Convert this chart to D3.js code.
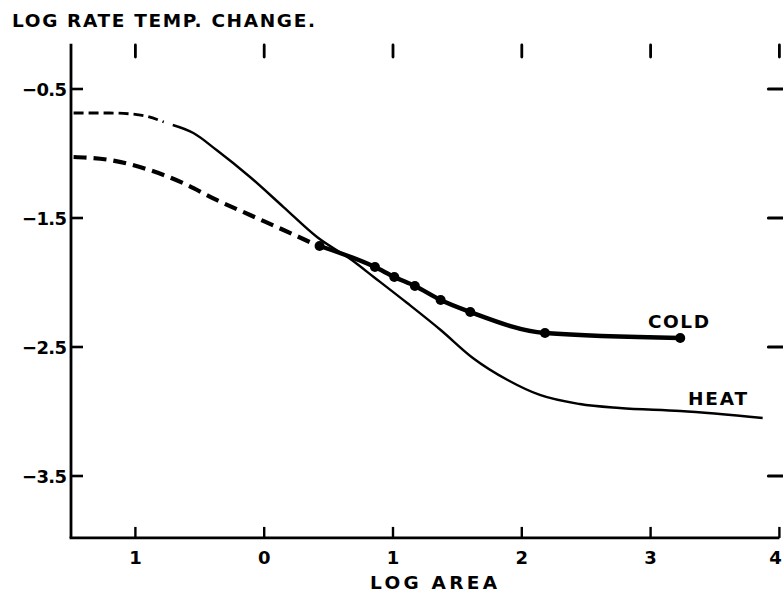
<!DOCTYPE html>
<html>
<head>
<meta charset="utf-8">
<script src="https://cdnjs.cloudflare.com/ajax/libs/d3/7.8.5/d3.min.js"></script>
<style>
    body { margin: 0; background: #fff; }
    svg { display: block; }
    text { font-family: "DejaVu Sans", sans-serif; font-weight: bold; fill: #000; }
</style>
</head>
<body>
<svg id="chart" width="783" height="595"></svg>
<script>
// values
var xTicks = [-1, 0, 1, 2, 3, 4];
var xTickLabels = ["1", "0", "1", "2", "3", "4"];
var yTicks = [-0.5, -1.5, -2.5, -3.5];
var yTickLabels = ["\u22120.5", "\u22121.5", "\u22122.5", "\u22123.5"];

// heat: extrapolated (dashed) part, then measured part
var heatDashX = [-1.48, -1.20, -0.96, -0.78];
var heatDashY = [-0.686, -0.686, -0.702, -0.756];
var heatX = [-0.71, -0.55, -0.37, -0.11, 0.15, 0.41, 0.68, 0.85, 1.11, 1.37, 1.62, 1.89, 2.14, 2.45, 2.76, 3.23, 3.87];
var heatY = [-0.779, -0.841, -0.973, -1.182, -1.415, -1.647, -1.826, -1.957, -2.159, -2.368, -2.585, -2.756, -2.872, -2.942, -2.973, -2.996, -3.050];

// cold: extrapolated (dashed) part, then observed points
var coldDashX = [-1.48, -1.20, -0.89, -0.63, -0.37, -0.11, 0.15, 0.42];
var coldDashY = [-1.027, -1.050, -1.128, -1.229, -1.360, -1.477, -1.593, -1.717];
var coldX = [0.43, 0.86, 1.01, 1.17, 1.37, 1.60, 2.18, 3.23];
var coldY = [-1.717, -1.880, -1.957, -2.027, -2.136, -2.229, -2.391, -2.430];

var xMin = -1.5, xMax = 4, yMin = -3.98, yMax = -0.15;

var svg = d3.select("#chart");

var x = d3.scaleLinear().domain([xMin, xMax]).range([71, 779.4]);
var y = d3.scaleLinear().domain([-3.5, -0.5]).range([476, 89]);

function pts(xs, ys) {
    return xs.map(function (v, i) { return [v, ys[i]]; });
}

var line = d3.line()
    .x(function (d) { return x(d[0]); })
    .y(function (d) { return y(d[1]); })
    .curve(d3.curveMonotoneX);

// axes frame
var g = svg.append("g").attr("stroke", "#000").attr("fill", "none");

g.append("line")
    .attr("x1", x(xMin)).attr("x2", x(xMin))
    .attr("y1", y(yMax)).attr("y2", y(yMin))
    .attr("stroke-width", 2.8);

g.append("line")
    .attr("x1", x(xMin) - 1.4).attr("x2", x(xMax))
    .attr("y1", y(yMin)).attr("y2", y(yMin))
    .attr("stroke-width", 2.8);

// bottom ticks (up), top ticks (floating)
xTicks.forEach(function (t) {
    g.append("line")
        .attr("x1", x(t)).attr("x2", x(t))
        .attr("y1", y(yMin)).attr("y2", y(yMin) - 11)
        .attr("stroke-width", 2.4);
    g.append("line")
        .attr("x1", x(t)).attr("x2", x(t))
        .attr("y1", 45).attr("y2", 57)
        .attr("stroke-width", 2.8)
        .attr("stroke-linecap", "round");
});

// left ticks and right ticks
yTicks.forEach(function (t) {
    g.append("line")
        .attr("x1", x(xMin)).attr("x2", x(xMin) + 12)
        .attr("y1", y(t)).attr("y2", y(t))
        .attr("stroke-width", 2.6);
    g.append("line")
        .attr("x1", x(xMax) - 11).attr("x2", x(xMax) + 3)
        .attr("y1", y(t)).attr("y2", y(t))
        .attr("stroke-width", 3)
        .attr("stroke-linecap", "round");
});

// tick labels
svg.selectAll(".xl")
    .data(xTicks)
    .enter().append("text")
    .attr("class", "xl")
    .attr("x", function (d, i) { return i == xTicks.length - 1 ? x(d) - 4 : x(d); })
    .attr("y", 564)
    .attr("text-anchor", "middle")
    .attr("font-size", 18)
    .text(function (d, i) { return xTickLabels[i]; });

svg.selectAll(".yl")
    .data(yTicks)
    .enter().append("text")
    .attr("class", "yl")
    .attr("x", 67)
    .attr("y", function (d) { return y(d) + 6.5; })
    .attr("text-anchor", "end")
    .attr("font-size", 18)
    .attr("textLength", 45)
    .attr("lengthAdjust", "spacing")
    .text(function (d, i) { return yTickLabels[i]; });

// titles
svg.append("text")
    .attr("x", 12).attr("y", 27)
    .attr("font-size", 18.5)
    .attr("textLength", 303)
    .attr("lengthAdjust", "spacing")
    .text("LOG RATE  TEMP. CHANGE.");

svg.append("text")
    .attr("x", 370).attr("y", 589)
    .attr("font-size", 18.5)
    .attr("textLength", 127)
    .attr("lengthAdjust", "spacing")
    .text("LOG  AREA");

// curves
svg.append("path")
    .attr("d", line(pts(heatDashX, heatDashY)))
    .attr("fill", "none").attr("stroke", "#000")
    .attr("stroke-width", 2.8)
    .attr("stroke-dasharray", "10,5");

svg.append("path")
    .attr("d", line(pts(heatX, heatY)))
    .attr("fill", "none").attr("stroke", "#000")
    .attr("stroke-width", 2.4);

svg.append("path")
    .attr("d", line(pts(coldDashX, coldDashY)))
    .attr("fill", "none").attr("stroke", "#000")
    .attr("stroke-width", 4.2)
    .attr("stroke-dasharray", "13,7");

svg.append("path")
    .attr("d", line(pts(coldX, coldY)))
    .attr("fill", "none").attr("stroke", "#000")
    .attr("stroke-width", 4.4);

svg.selectAll(".dot")
    .data(pts(coldX, coldY))
    .enter().append("circle")
    .attr("class", "dot")
    .attr("cx", function (d) { return x(d[0]); })
    .attr("cy", function (d) { return y(d[1]); })
    .attr("r", 5)
    .attr("fill", "#000");

// curve labels
svg.append("text")
    .attr("x", 648).attr("y", 328)
    .attr("font-size", 18.5)
    .attr("textLength", 61)
    .attr("lengthAdjust", "spacing")
    .text("COLD");

svg.append("text")
    .attr("x", 688).attr("y", 405)
    .attr("font-size", 18.5)
    .attr("textLength", 59)
    .attr("lengthAdjust", "spacing")
    .text("HEAT");
</script>
</body>
</html>
